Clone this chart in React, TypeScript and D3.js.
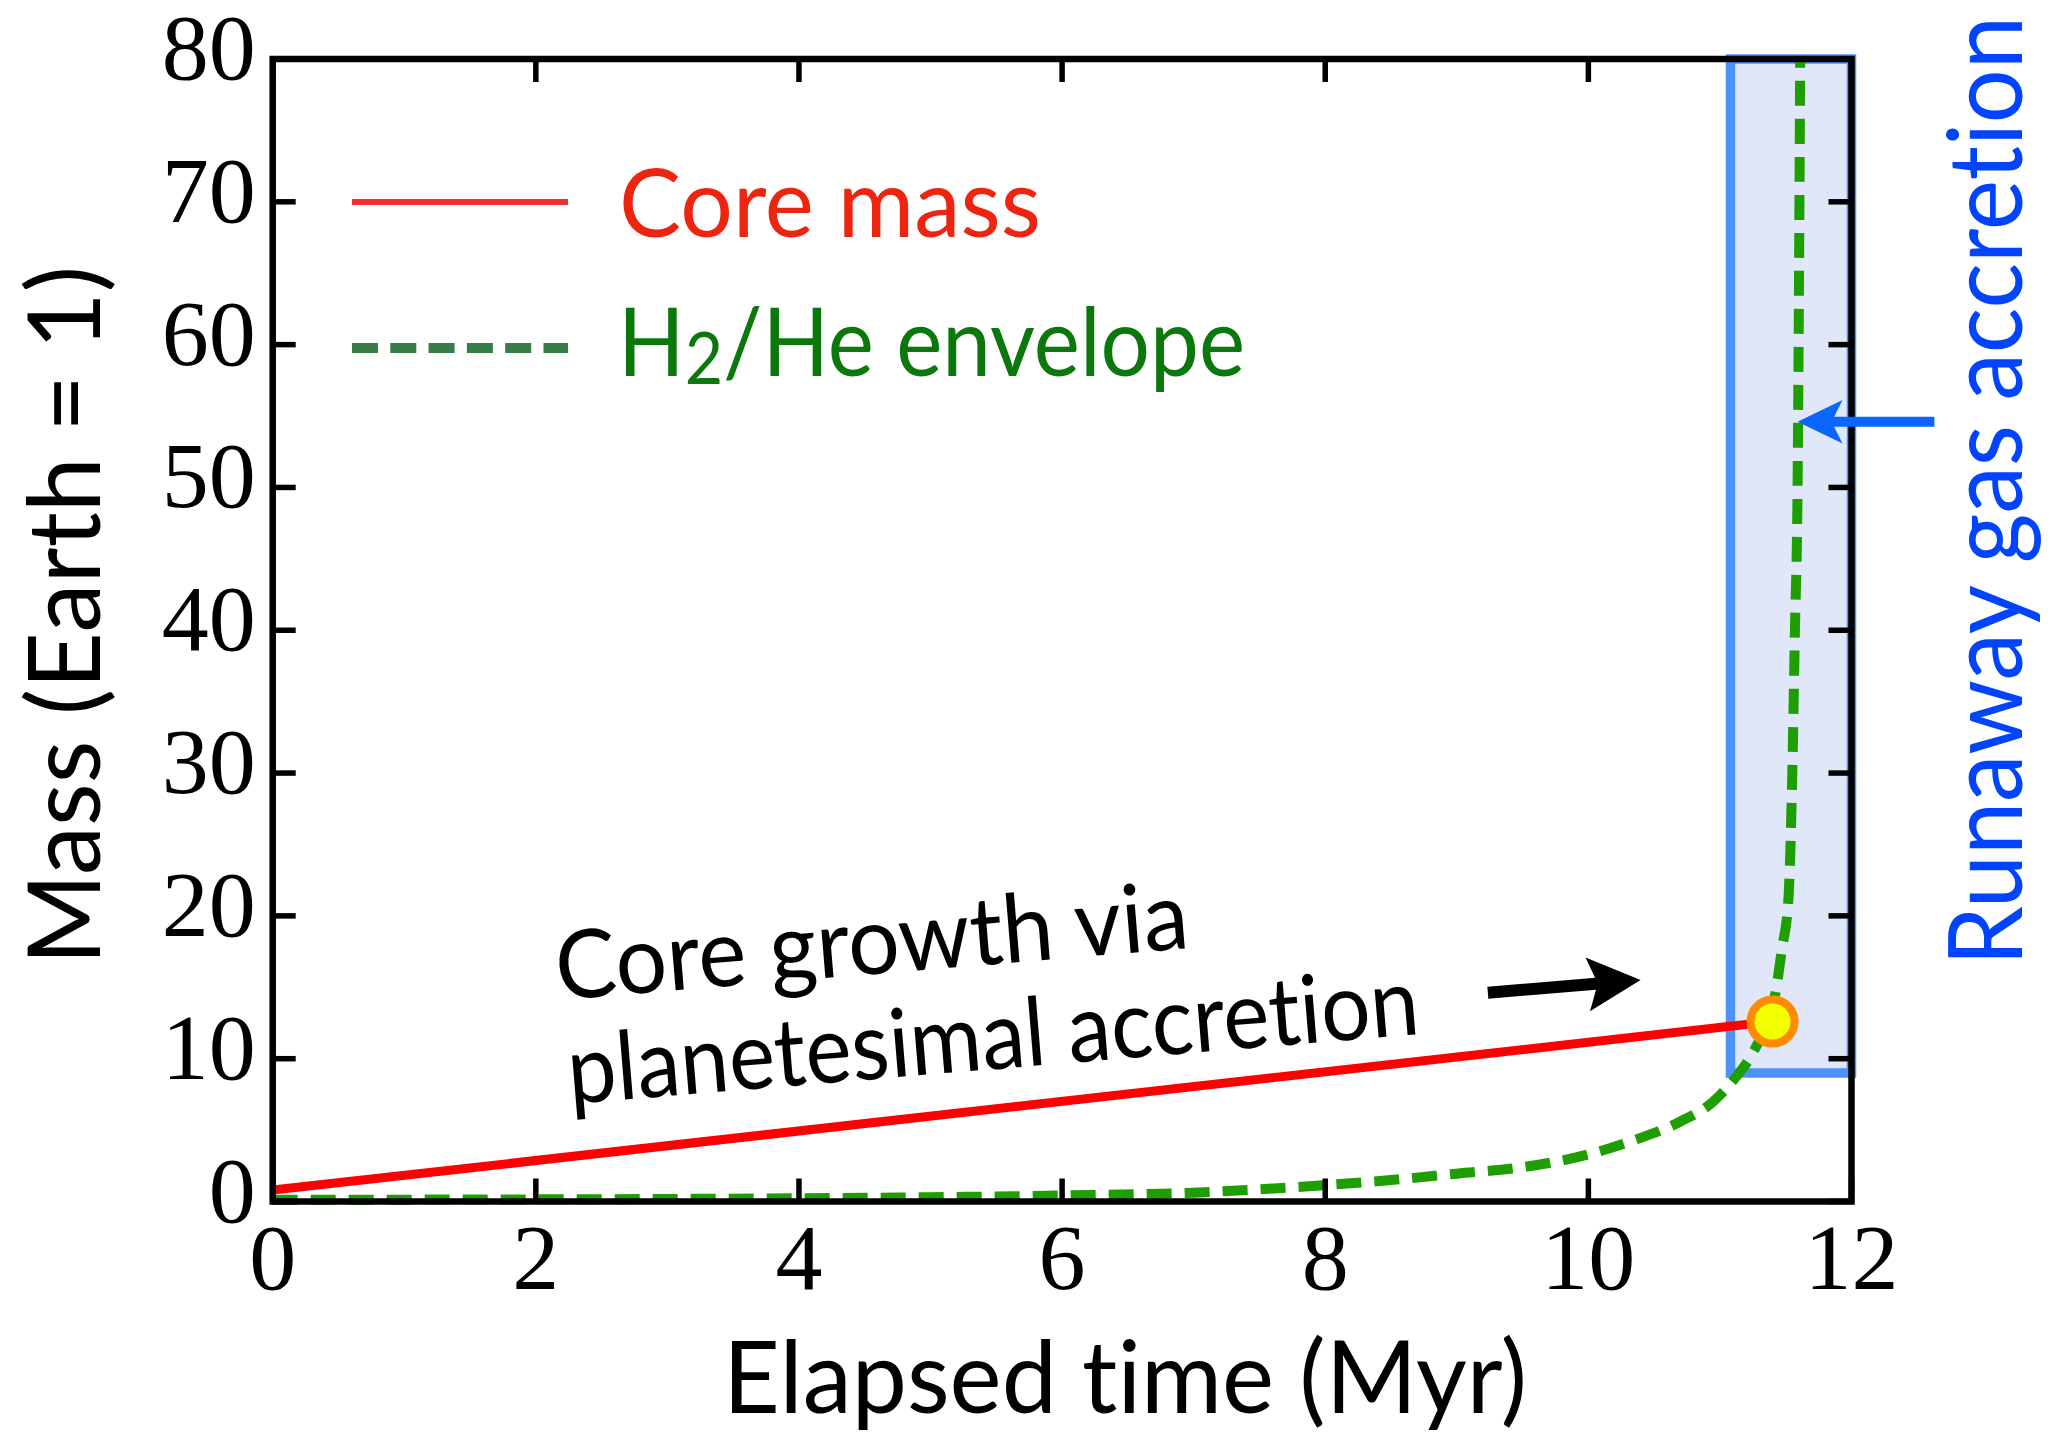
import React from 'react';
import * as d3 from 'd3';

// Canvas and plotting frame
const W = 2072;
const H = 1434;
const FRAME = { left: 272.7, right: 1851.5, top: 59, bottom: 1201.5 };

// Axis ticks
const timeTicks = [0, 2, 4, 6, 8, 10, 12];
const massTicks = [0, 10, 20, 30, 40, 50, 60, 70, 80];

// Solid core mass (Earth masses) vs elapsed time (Myr)
const coreTime = [0, 11.4];
const coreMass = [0.8, 12.6];

// H2/He envelope mass vs elapsed time
const envTime = [0, 1, 2, 3, 4, 5, 6, 7, 8, 8.5, 9, 9.5, 10, 10.35, 10.7, 10.95, 11.12, 11.25, 11.35, 11.42, 11.47, 11.52, 11.55, 11.57, 11.59, 11.61];
const envMass = [0.12, 0.13, 0.15, 0.18, 0.23, 0.3, 0.42, 0.62, 1.15, 1.5, 1.95, 2.4, 3.3, 4.3, 5.6, 7.0, 8.7, 10.4, 12.4, 14.5, 17.6, 21.1, 30, 40, 50, 80];

// Runaway gas accretion window
const runawayTime = [11.08, 12];
const runawayMass = [9, 80];

// Annotation arrows (data units)
const gasArrowTime = [12.63, 11.59]; // tail, tip
const gasArrowMass = [54.6, 54.6];
const coreArrowTime = [9.236, 10.397];
const coreArrowMass = [14.62, 15.51];

// Annotation text anchors (data units)
const noteLines = ['Core growth via', 'planetesimal accretion'];
const noteTime = [2.168, 2.26];
const noteMass = [14.11, 6.83];
const noteLength = [635, 854];

const SANS = 'Lato, "Open Sans", sans-serif';
const SERIF = '"Liberation Serif", "Times New Roman", serif';
const NOLIG = { fontVariantLigatures: 'none', fontFeatureSettings: '"liga" 0, "dlig" 0' } as React.CSSProperties;

const x = d3.scaleLinear().domain([0, 12]).range([FRAME.left, FRAME.right]);
const y = d3.scaleLinear().domain([0, 80]).range([FRAME.bottom, FRAME.top]);

function Arrow({ x0, y0, x1, y1, color, shaft, headLen, halfW, notch }: any) {
  const ang = (Math.atan2(y1 - y0, x1 - x0) * 180) / Math.PI;
  const len = Math.hypot(x1 - x0, y1 - y0);
  const head = `M0,0 L${-headLen},${-halfW} L${-(headLen - notch)},0 L${-headLen},${halfW} Z`;
  return (
    <g transform={`translate(${x1},${y1}) rotate(${ang})`}>
      <line x1={-len} y1={0} x2={-(headLen - notch) + 1} y2={0} stroke={color} strokeWidth={shaft} />
      <path d={head} fill={color} />
    </g>
  );
}

export default function App() {
  const corePts = coreTime.map((t, i) => [x(t), y(coreMass[i])] as [number, number]);
  const envPts = envTime.map((t, i) => [x(t), y(envMass[i])] as [number, number]);
  const line = d3.line().curve(d3.curveMonotoneX);

  const bx0 = x(runawayTime[0]);
  const bx1 = x(runawayTime[1]);
  const by0 = y(runawayMass[1]);
  const by1 = y(runawayMass[0]);

  const tickLen = 23;

  return (
    <svg
      width={W}
      height={H}
      viewBox={`0 0 ${W} ${H}`}
      style={{ position: 'absolute', left: 0, top: 0, background: '#fff' }}
    >
      <rect x={0} y={0} width={W} height={H} fill="#fff" />

      {/* runaway gas accretion window */}
      <rect x={bx0} y={by0} width={bx1 - bx0} height={by1 - by0} fill="#dfe7f8" stroke="#4d91fa" strokeWidth={9.5} />

      {/* core mass */}
      <path d={line(corePts) || ''} fill="none" stroke="#ff0000" strokeWidth={9} />

      {/* envelope mass */}
      <path d={line(envPts) || ''} fill="none" stroke="#1e9e00" strokeWidth={10} strokeDasharray="25 13" />

      {/* crossover */}
      <circle cx={x(coreTime[1])} cy={y(coreMass[1])} r={22} fill="#f2ff00" stroke="#ff8a00" strokeWidth={8} />

      {/* frame */}
      <rect
        x={FRAME.left}
        y={FRAME.top}
        width={FRAME.right - FRAME.left}
        height={FRAME.bottom - FRAME.top}
        fill="none"
        stroke="#000"
        strokeWidth={6.5}
      />
      {timeTicks.map((t) => (
        <g key={'xt' + t}>
          <line x1={x(t)} x2={x(t)} y1={FRAME.bottom} y2={FRAME.bottom - tickLen} stroke="#000" strokeWidth={5.5} />
          <line x1={x(t)} x2={x(t)} y1={FRAME.top} y2={FRAME.top + tickLen} stroke="#000" strokeWidth={5.5} />
          <text x={x(t)} y={FRAME.bottom + 87} textAnchor="middle" fontFamily={SERIF} fontSize={94} fill="#000">
            {t}
          </text>
        </g>
      ))}
      {massTicks.map((m) => (
        <g key={'yt' + m}>
          <line x1={FRAME.left} x2={FRAME.left + tickLen} y1={y(m)} y2={y(m)} stroke="#000" strokeWidth={5.5} />
          <line x1={FRAME.right} x2={FRAME.right - tickLen} y1={y(m)} y2={y(m)} stroke="#000" strokeWidth={5.5} />
          <text x={FRAME.left - 17} y={y(m) + 20} textAnchor="end" fontFamily={SERIF} fontSize={94} fill="#000">
            {m}
          </text>
        </g>
      ))}

      {/* axis titles */}
      <text x={1125} y={1413} textAnchor="middle" fontFamily={SANS} fontSize={100} textLength={804} lengthAdjust="spacingAndGlyphs" fill="#000" style={NOLIG}>
        Elapsed time (Myr)
      </text>
      <text
        transform="translate(100,615.5) rotate(-90)"
        textAnchor="middle"
        fontFamily={SANS}
        fontSize={100}
        textLength={699}
        lengthAdjust="spacingAndGlyphs"
        fill="#000"
        style={NOLIG}
      >
        Mass (Earth = 1)
      </text>

      {/* legend */}
      <line x1={352} x2={568} y1={202} y2={202} stroke="#f02c2c" strokeWidth={6} />
      <text x={619} y={237} fontFamily={SANS} fontSize={95} textLength={422} lengthAdjust="spacingAndGlyphs" fill="#ec2410" style={NOLIG}>
        Core mass
      </text>
      <line x1={352} x2={568} y1={348} y2={348} stroke="#377d46" strokeWidth={10} strokeDasharray="26 12.3" />
      <text x={618} y={376} fontFamily={SANS} fontSize={95} fill="#0b780b" textLength={627} lengthAdjust="spacingAndGlyphs" style={NOLIG}>
        H
        <tspan fontSize={72} dy={8}>2</tspan>
        <tspan dy={-8}>/He envelope</tspan>
      </text>

      {/* runaway annotation */}
      <Arrow
        x0={x(gasArrowTime[0])}
        y0={y(gasArrowMass[0])}
        x1={x(gasArrowTime[1])}
        y1={y(gasArrowMass[1])}
        color="#0a66ff"
        shaft={10}
        headLen={45}
        halfW={21.7}
        notch={11}
      />
      <text
        transform="translate(2022,491) rotate(-90)"
        textAnchor="middle"
        fontFamily={SANS}
        fontSize={102}
        textLength={950}
        lengthAdjust="spacingAndGlyphs"
        fill="#0044ff"
        style={NOLIG}
      >
        Runaway gas accretion
      </text>

      {/* core growth annotation */}
      {noteLines.map((s, i) => (
        <text
          key={s}
          transform={`translate(${x(noteTime[i])},${y(noteMass[i])}) rotate(-4.7)`}
          fontFamily={SANS}
          fontSize={95}
          textLength={noteLength[i]}
          lengthAdjust="spacingAndGlyphs"
          fill="#000"
          style={NOLIG}
        >
          {s}
        </text>
      ))}
      <Arrow
        x0={x(coreArrowTime[0])}
        y0={y(coreArrowMass[0])}
        x1={x(coreArrowTime[1])}
        y1={y(coreArrowMass[1])}
        color="#000"
        shaft={12}
        headLen={53}
        halfW={27}
        notch={10}
      />
    </svg>
  );
}
